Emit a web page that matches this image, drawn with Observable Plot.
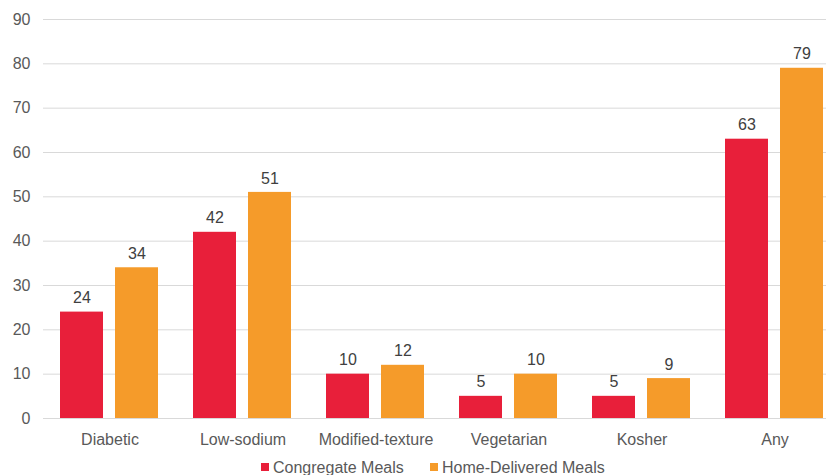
<!DOCTYPE html>
<html>
<head>
<meta charset="utf-8">
<script src="https://cdn.jsdelivr.net/npm/d3@7"></script>
<script src="https://cdn.jsdelivr.net/npm/@observablehq/plot@0.6"></script>
<style>
  html, body { margin: 0; padding: 0; background: #fff; }
  #wrap { width: 826px; height: 475px; overflow: hidden; position: relative; font-family: "Liberation Sans", Arial, sans-serif; }
  #chart { width: 842px; }
  #chart svg { display: block; max-width: none !important; width: 842px !important; height: 450px !important; }
  #legend { position: absolute; left: 0; top: 450px; width: 826px; height: 25px; font-size: 16px; line-height: 18px; color: #595959; }
  .item { position: absolute; top: 5px; white-space: nowrap; }
  .sw { position: absolute; width: 8px; height: 8px; top: 8px; }
</style>
</head>
<body>
<div id="wrap">
  <div id="chart"></div>
  <div id="legend"></div>
</div>
<script>
const categories = ["Diabetic", "Low-sodium", "Modified-texture", "Vegetarian", "Kosher", "Any"];
const seriesNames = ["Congregate Meals", "Home-Delivered Meals"];
const congregate = [24, 42, 10, 5, 5, 63];
const homeDelivered = [34, 51, 12, 10, 9, 79];
const colors = ["#E81F3A", "#F59B2A"];
const yTicks = [0, 10, 20, 30, 40, 50, 60, 70, 80, 90];

const data = categories.flatMap((c, i) => [
  {category: c, series: seriesNames[0], value: congregate[i]},
  {category: c, series: seriesNames[1], value: homeDelivered[i]}
]);

const chart = Plot.plot({
  width: 842,
  height: 450,
  marginLeft: 42,
  marginRight: 0,
  marginTop: 19,
  marginBottom: 32,
  style: {fontSize: "16px", fontFamily: "'Liberation Sans', Arial, sans-serif", color: "#595959", background: "#fff", maxWidth: "none"},
  fx: {domain: categories, padding: 0, label: null, tickSize: 0, tickPadding: 15},
  x: {domain: seriesNames, paddingInner: 0.214, paddingOuter: 0.298, axis: null},
  y: {domain: [0, 90], axis: null},
  color: {domain: seriesNames, range: colors},
  marks: [
    Plot.gridY(yTicks, {stroke: "#d9d9d9", strokeOpacity: 1, strokeWidth: 1}),
    Plot.axisY(yTicks, {tickSize: 0, tickPadding: 13, label: null, fontSize: 16, fill: "#595959"}),
    Plot.barY(data, {fx: "category", x: "series", y: "value", fill: "series"}),
    Plot.text(data, {fx: "category", x: "series", y: "value", text: d => String(d.value), dy: -14, fill: "#404040", fontSize: 16})
  ]
});
document.getElementById("chart").appendChild(chart);

const legend = document.getElementById("legend");
const legendPos = [261, 430];
seriesNames.forEach((name, i) => {
  const sw = document.createElement("div");
  sw.className = "sw";
  sw.style.left = legendPos[i] + "px";
  sw.style.top = "13px";
  sw.style.background = colors[i];
  legend.appendChild(sw);
  const t = document.createElement("div");
  t.className = "item";
  t.style.left = (legendPos[i] + 12) + "px";
  t.style.top = "9px";
  t.textContent = name;
  legend.appendChild(t);
});
</script>
</body>
</html>
